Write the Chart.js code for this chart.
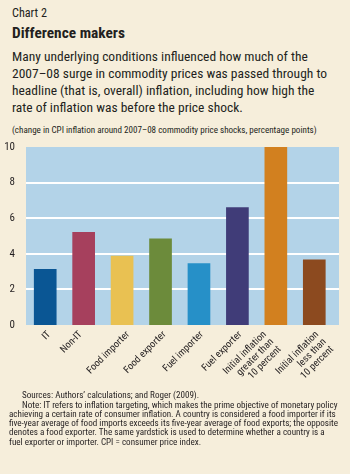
<!DOCTYPE html>
<html><head><meta charset="utf-8">
<script src="https://cdn.jsdelivr.net/npm/chart.js@4"></script>
<style>
html,body{margin:0;padding:0;background:#f6eedb;width:350px;height:474px;overflow:hidden;}
body{position:relative;font-family:"Roboto Condensed","Liberation Sans",sans-serif;color:#231f20;}
.t{position:absolute;left:12px;white-space:nowrap;}
.t span, .n span{display:inline-block;white-space:nowrap;}
#wrap{position:absolute;left:0;top:136px;width:350px;height:260px;}
.n{position:absolute;left:9px;top:391.4px;line-height:9.26px;white-space:nowrap;}
.n div{height:9.26px;}
.n div.i{padding-left:13px;}
</style></head><body>
<div class="t" id="h0" style="top:7.8px;line-height:11px"><span>Chart 2</span></div>
<div class="t" id="h1" style="top:25.3px;line-height:16px;font-weight:bold"><span>Difference makers</span></div>
<div class="t" id="h2" style="top:48.2px;line-height:16.9px"><span>Many underlying conditions influenced how much of the</span><br>2007–08 surge in commodity prices was passed through to<br>headline (that is, overall) inflation, including how high the<br>rate of inflation was before the price shock.</div>
<div class="t" id="h3" style="top:124.5px;line-height:10px"><span>(change in CPI inflation around 2007–08 commodity price shocks, percentage points)</span></div>
<div id="wrap"><canvas id="c" width="350" height="260"></canvas></div>
<div class="n" id="notes">
<div class="i">Sources: Authors’ calculations; and Roger (2009).</div>
<div class="i">Note: IT refers to inflation targeting, which makes the prime objective of monetary policy</div>
<div><span>achieving a certain rate of consumer inflation. A country is considered a food importer if its</span></div>
<div>five-year average of food imports exceeds its five-year average of food exports; the opposite</div>
<div>denotes a food exporter. The same yardstick is used to determine whether a country is a</div>
<div>fuel exporter or importer. CPI = consumer price index.</div>
</div>
<script>
const categories = [['IT'],['Non-IT'],['Food importer'],['Food exporter'],['Fuel importer'],['Fuel exporter'],['Initial inflation','greater than','10 percent'],['Initial inflation','less than','10 percent']];
const values = [3.15, 5.22, 3.89, 4.86, 3.47, 6.61, 10.0, 3.68];
const barColors = ['#0a5694','#a6405d','#e9c152','#6c8b3b','#2690c8','#403c78','#d2801f','#8c4a1f'];
const gridValues = [2, 4, 6, 8];
const yMin = 0, yMax = 10, yStep = 2;

// layout: horizontal nudge of each rotated category label, as hand-placed in the original
const labelNudge = [4, -3, 6, 4, 3, 3, -11, 3];

function fit(id, target) {
  const el = document.getElementById(id);
  const sp = el.querySelector('span');
  el.style.fontSize = '20px';
  const w = sp.getBoundingClientRect().width;
  el.style.fontSize = (20 * target / w).toFixed(2) + 'px';
}
fit('h0', 35); fit('h1', 113); fit('h2', 296); fit('h3', 305); fit('notes', 327);

const FONT = '"Roboto Condensed","Liberation Sans",sans-serif';
const bgPlugin = {
  id: 'bg',
  beforeDatasetsDraw(chart) {
    const {ctx, chartArea: a, scales: {y}} = chart;
    ctx.save();
    ctx.fillStyle = '#b3d3e8';
    ctx.fillRect(a.left, a.top, a.right - a.left + 5.5, a.bottom - a.top);
    ctx.strokeStyle = '#ffffff';
    ctx.lineWidth = 2;
    for (const v of gridValues) {
      const py = Math.round(y.getPixelForValue(v));
      ctx.beginPath(); ctx.moveTo(a.left, py); ctx.lineTo(a.right + 5.5, py); ctx.stroke();
    }
    ctx.restore();
  },
  afterDraw(chart) {
    const {ctx, chartArea: a, scales: {x}} = chart;
    const lh = 10.5;
    ctx.save();
    ctx.fillStyle = '#231f20';
    ctx.font = '10px ' + FONT;
    ctx.textAlign = 'right';
    ctx.textBaseline = 'middle';
    categories.forEach((lines, i) => {
      const px = x.getPixelForValue(i) + labelNudge[i];
      ctx.save();
      ctx.translate(px, a.bottom + 8);
      ctx.rotate(-Math.PI / 4);
      lines.forEach((ln, j) => ctx.fillText(ln, 0, j * lh));
      ctx.restore();
    });
    ctx.restore();
  }
};

new Chart(document.getElementById('c'), {
  type: 'bar',
  data: { labels: categories, datasets: [{ data: values, backgroundColor: barColors, borderWidth: 0, barPercentage: 0.59, categoryPercentage: 1.0 }] },
  options: {
    responsive: false, animation: false,
    plugins: { legend: { display: false }, tooltip: { enabled: false } },
    layout: { padding: { top: 11, right: 16.5, left: 0, bottom: 0 } },
    scales: {
      x: {
        grid: { display: false }, border: { display: false },
        ticks: { display: false },
        afterFit(s) { s.height = 71; }
      },
      y: {
        min: yMin, max: yMax,
        grid: { display: false }, border: { display: false },
        ticks: { stepSize: yStep, color: '#231f20', font: { family: FONT, size: 11 }, padding: 3 },
        afterFit(s) { s.width = 26; }
      }
    }
  },
  plugins: [bgPlugin]
});
</script>
</body></html>
